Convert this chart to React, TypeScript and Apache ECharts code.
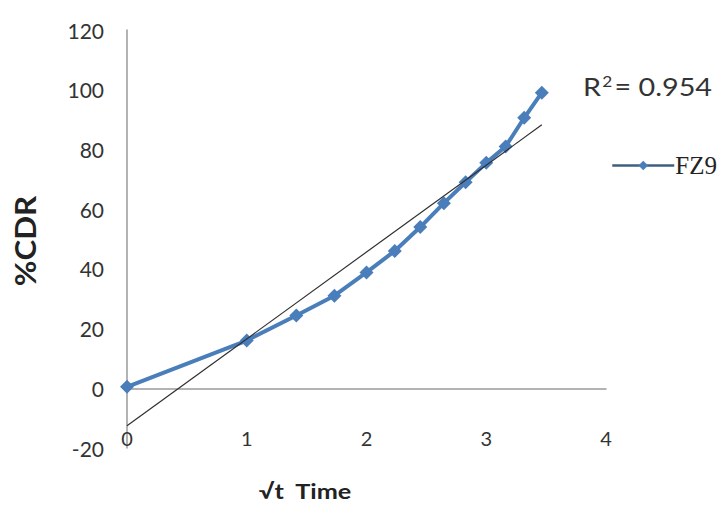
import React, { useEffect, useRef } from "react";
import * as echarts from "echarts";

const sqrtTime = [0, 1, 1.414, 1.732, 2, 2.236, 2.449, 2.646, 2.828, 3, 3.162, 3.317, 3.464];
const cdr = [0.5, 16, 24.4, 31, 38.8, 46, 54, 62, 69, 75.5, 81, 90.6, 99];
const seriesName = "FZ9";
const r2Value = "0.954";

function linearFit(xs: number[], ys: number[]) {
  const n = xs.length;
  const mx = xs.reduce((a, b) => a + b, 0) / n;
  const my = ys.reduce((a, b) => a + b, 0) / n;
  let sxy = 0;
  let sxx = 0;
  for (let i = 0; i < n; i++) {
    sxy += (xs[i] - mx) * (ys[i] - my);
    sxx += (xs[i] - mx) * (xs[i] - mx);
  }
  const slope = sxy / sxx;
  return { slope, intercept: my - slope * mx };
}

export default function App() {
  const ref = useRef<HTMLDivElement>(null);
  useEffect(() => {
    if (!ref.current) return;
    const chart = echarts.init(ref.current, undefined, { renderer: "svg" });
    const fit = linearFit(sqrtTime, cdr);
    const x0 = sqrtTime[0];
    const x1 = sqrtTime[sqrtTime.length - 1];
    const trend = [
      [x0, fit.intercept + fit.slope * x0],
      [x1, fit.intercept + fit.slope * x1],
    ];
    const font = "Lato, 'Open Sans', sans-serif";
    chart.setOption({
      animation: false,
      backgroundColor: "#ffffff",
      grid: { left: 127, right: 115, top: 30, bottom: 57 },
      xAxis: {
        type: "value",
        min: 0,
        max: 4,
        interval: 1,
        axisLine: { show: true, onZero: true, lineStyle: { color: "#9a9a9a", width: 1.5 } },
        axisTick: { show: false },
        splitLine: { show: false },
        axisLabel: { margin: -20, fontSize: 20, color: "#333", fontFamily: font },
      },
      yAxis: {
        type: "value",
        min: -20,
        max: 120,
        interval: 20,
        axisLine: { show: true, onZero: false, lineStyle: { color: "#9a9a9a", width: 1.5 } },
        axisTick: { show: false },
        splitLine: { show: false },
        axisLabel: { margin: 23, fontSize: 21, color: "#333", fontFamily: font },
      },
      legend: {
        data: [
          {
            name: seriesName,
            itemStyle: { color: "#4a7ebb" },
            lineStyle: { color: "#3f5e80", width: 2.5 },
          },
        ],
        left: 606,
        top: 148,
        itemWidth: 62,
        itemHeight: 12,
        itemGap: 0,
        textStyle: { fontFamily: "'Liberation Serif', serif", fontSize: 25, color: "#222", padding: [0, 0, 0, -4] },
      },
      series: [
        {
          name: "trend",
          type: "line",
          data: trend,
          symbol: "none",
          lineStyle: { color: "#2f2f2f", width: 1.2 },
          z: 3,
        },
        {
          name: seriesName,
          type: "line",
          data: sqrtTime.map((x, i) => [x, cdr[i]]),
          symbol: "diamond",
          symbolSize: 14,
          itemStyle: { color: "#4a7ebb" },
          lineStyle: { color: "#4a7ebb", width: 4 },
          z: 2,
        },
      ],
      graphic: [
        {
          type: "text",
          x: 25,
          y: 241,
          rotation: Math.PI / 2,
          scaleX: 1.12,
          style: {
            text: "%CDR",
            font: "bold 28px Lato, 'Open Sans', sans-serif",
            fill: "#222",
            align: "center",
            verticalAlign: "middle",
          },
        },
        {
          type: "text",
          x: 305,
          y: 491,
          scaleX: 1.2,
          style: {
            text: "\u221At  Time",
            font: "bold 21px Lato, 'Open Sans', sans-serif",
            fill: "#222",
            align: "center",
            verticalAlign: "middle",
          },
        },
        {
          type: "text",
          x: 583,
          y: 86,
          scaleX: 1.15,
          style: {
            text: "R{sup|2}= " + r2Value,
            font: "25px Lato, 'Open Sans', sans-serif",
            fill: "#333",
            align: "left",
            verticalAlign: "middle",
            rich: {
              sup: {
                fontSize: 15,
                fontFamily: "Lato, 'Open Sans', sans-serif",
                fill: "#333",
                verticalAlign: "top",
                padding: [0, 2, 10, 1],
              },
            },
          },
        },
      ],
    });
    return () => chart.dispose();
  }, []);
  return <div ref={ref} style={{ width: 721, height: 505, position: "absolute", left: 0, top: 0 }} />;
}
